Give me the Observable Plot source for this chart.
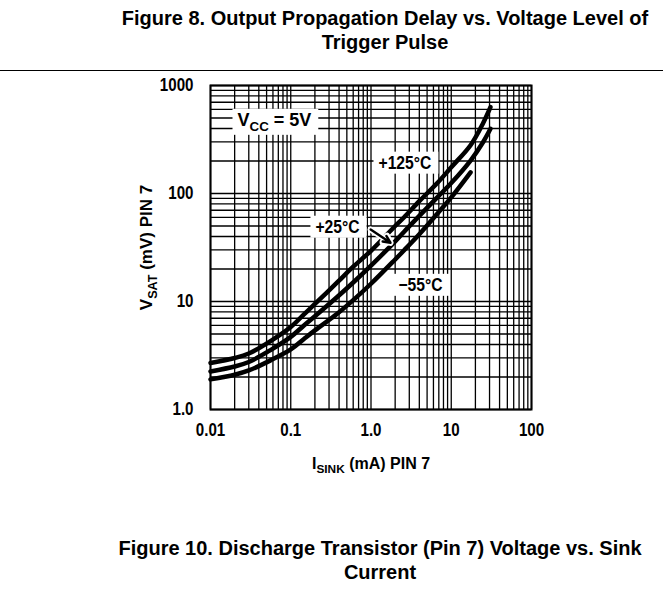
<!DOCTYPE html>
<html>
<head>
<meta charset="utf-8">
<script src="https://cdn.jsdelivr.net/npm/d3@7"></script>
<script src="https://cdn.jsdelivr.net/npm/@observablehq/plot@0.6"></script>
<style>
  html, body { margin: 0; padding: 0; background: #fff; }
  body { width: 663px; height: 595px; position: relative; overflow: hidden;
         font-family: "Liberation Sans", Arial, sans-serif; }
  .cap { position: absolute; width: 700px; text-align: center;
         font-weight: bold; font-size: 20px; line-height: 24px; color: #000; }
  #title { top: 6px; left: 35px; }
  #rule { position: absolute; left: 0; top: 70px; width: 663px; border-top: 1px solid #000; }
  #chart { position: absolute; left: 0; top: 75px; }
  #caption { top: 536px; left: 30px; }
</style>
</head>
<body>
<div id="title" class="cap">Figure 8. Output Propagation Delay vs. Voltage Level of<br>Trigger Pulse</div>
<div id="rule"></div>
<div id="chart"></div>
<div id="caption" class="cap">Figure 10. Discharge Transistor (Pin 7) Voltage vs. Sink<br>Current</div>
<script>
// ---- data (I in mA, V in mV) ----
const current    = [0.01, 0.02, 0.03, 0.056, 0.1, 0.146, 0.2, 0.379, 0.6, 1, 2, 2.57, 4, 6.7, 10, 17.4, 25, 30.8];
const vsatP125   = [2.7, 3.0, 3.3, 4.3, 5.8, 7.6, 9.5, 15, 21, 29.5, 50, 60, 85, 125, 175, 280, 450, 630];
const vsatP25    = [2.25, 2.5, 2.75, 3.55, 4.7, 6.0, 7.3, 11, 15, 21.5, 36, 44, 62, 92, 125, 202, 300, 397];
const currentM55 = [0.01, 0.02, 0.03, 0.056, 0.1, 0.146, 0.2, 0.379, 0.6, 1, 2, 2.57, 4, 6.7, 10, 17.4];
const vsatM55    = [1.9, 2.1, 2.3, 2.85, 3.6, 4.5, 5.4, 7.7, 10.3, 14.6, 24.5, 29.7, 42, 65, 92, 157];

// axis ticks
const xTicks = [0.01, 0.1, 1, 10, 100];
const xTickLabels = ["0.01", "0.1", "1.0", "10", "100"];
const yTicks = [1, 10, 100, 1000];
const yTickLabels = ["1.0", "10", "100", "1000"];

// annotations (text, anchor current, anchor voltage)
const annText = ["V_{CC} = 5V", "+125°C", "+25°C", "−55°C"];
const annI    = [0.0217, 1.24, 0.203, 2.2];
const annV    = [479, 192, 49, 14.2];

// arrow pointing at +25°C curve
const arrowI1 = [0.99], arrowV1 = [46.4], arrowI2 = [1.75], arrowV2 = [35];

// ---- build ----
const rows = [];
current.forEach((c, i) => rows.push({series: "+125°C", I: c, V: vsatP125[i]}));
current.forEach((c, i) => rows.push({series: "+25°C", I: c, V: vsatP25[i]}));
currentM55.forEach((c, i) => rows.push({series: "−55°C", I: c, V: vsatM55[i]}));

const decadesX = [0.01, 0.1, 1, 10];
const decadesY = [1, 10, 100];
const gridX = decadesX.flatMap(d => d3.range(1, 10).map(k => k * d)).concat([100]);
const gridY = decadesY.flatMap(d => d3.range(1, 10).map(k => k * d)).concat([1000]);

const xLab = new Map(xTicks.map((v, i) => [v, xTickLabels[i]]));
const yLab = new Map(yTicks.map((v, i) => [v, yTickLabels[i]]));
const FONT = '"Liberation Sans", Arial, sans-serif';

const ann = annText.map((t, i) => ({t, I: annI[i], V: annV[i]}));
const arr = arrowI1.map((d, i) => ({x1: d, y1: arrowV1[i], x2: arrowI2[i], y2: arrowV2[i]}));

const plot = Plot.plot({
  width: 663,
  height: 425,
  marginLeft: 210,
  marginRight: 132,
  marginTop: 10,
  marginBottom: 91,
  style: {fontFamily: FONT, fontSize: "18px", fontWeight: "bold", color: "#000", background: "transparent"},
  x: {type: "log", domain: [0.01, 100]},
  y: {type: "log", domain: [1, 1000]},
  marks: [
    Plot.ruleX(gridX, {stroke: "#000", strokeWidth: 1.3}),
    Plot.ruleY(gridY, {stroke: "#000", strokeWidth: 1.3}),
    Plot.line(rows, {x: "I", y: "V", z: "series", stroke: "#000", strokeWidth: 4.5, curve: "catmull-rom"}),
    Plot.arrow(arr, {x1: "x1", y1: "y1", x2: "x2", y2: "y2", stroke: "#fff", strokeWidth: 6, headLength: 12}),
    Plot.arrow(arr, {x1: "x1", y1: "y1", x2: "x2", y2: "y2", stroke: "#000", strokeWidth: 2.4, headLength: 11, headAngle: 50}),
    Plot.text(ann, {x: "I", y: "V", text: "t", textAnchor: "start", lineAnchor: "middle", fill: "#000",
                    fontSize: 18, fontWeight: "bold", fontFamily: FONT}),
    Plot.frame({stroke: "#000", strokeWidth: 2}),
    Plot.axisX(xTicks, {tickSize: 0, tickPadding: 14, tickFormat: d => xLab.get(d), label: null,
                        fontSize: 18, fontWeight: "bold", fontFamily: FONT}),
    Plot.axisY(yTicks, {tickSize: 0, tickPadding: 17, tickFormat: d => yLab.get(d), label: null,
                        fontSize: 18, fontWeight: "bold", fontFamily: FONT}),
    Plot.text(["I_{SINK} (mA) PIN 7"], {frameAnchor: "bottom", dy: 54, textAnchor: "middle", lineAnchor: "middle",
                        text: d => d, fontSize: 16, fontWeight: "bold", fontFamily: FONT}),
    Plot.text(["V_{SAT} (mV) PIN 7"], {frameAnchor: "left", dx: -64, rotate: -90, textAnchor: "middle", lineAnchor: "middle",
                        text: d => d, fontSize: 17, fontWeight: "bold", fontFamily: FONT})
  ]
});
document.getElementById("chart").appendChild(plot);

// subscripts, condensed lettering, white boxes behind annotation labels
const annSet = new Set(annText);
const svgNS = "http://www.w3.org/2000/svg";
d3.select(plot).selectAll("text").each(function() {
  const el = this;
  const raw = el.textContent;
  const fs = parseFloat(getComputedStyle(el).fontSize) || 18;
  const rich = raw.includes("_{");
  if (rich) {
    const parts = raw.split(/(_\{[^}]*\})/).filter(s => s.length);
    while (el.firstChild) el.removeChild(el.firstChild);
    let shifted = false;
    for (const p of parts) {
      const ts = document.createElementNS(svgNS, "tspan");
      if (p.startsWith("_{")) {
        ts.textContent = p.slice(2, -1);
        ts.setAttribute("font-size", (fs * 0.74) + "px");
        ts.setAttribute("dy", (fs * 0.28) + "px");
        shifted = true;
      } else {
        ts.textContent = p;
        if (shifted) { ts.setAttribute("dy", (-fs * 0.28) + "px"); shifted = false; }
      }
      el.appendChild(ts);
    }
  } else {
    // condense glyphs (reference uses a condensed bold face)
    const len = el.getComputedTextLength();
    if (len > 0) {
      el.setAttribute("textLength", len * (annSet.has(raw) ? 0.87 : 0.84));
      el.setAttribute("lengthAdjust", "spacingAndGlyphs");
    }
  }
  if (annSet.has(raw)) {
    const b = el.getBBox();
    const r = document.createElementNS(svgNS, "rect");
    r.setAttribute("x", b.x - 5);
    r.setAttribute("y", b.y - 1);
    r.setAttribute("width", b.width + 12);
    r.setAttribute("height", b.height + 2);
    r.setAttribute("fill", "#fff");
    r.setAttribute("stroke", "none");
    if (el.getAttribute("transform")) r.setAttribute("transform", el.getAttribute("transform"));
    el.parentNode.insertBefore(r, el);
  }
});
</script>
</body>
</html>
